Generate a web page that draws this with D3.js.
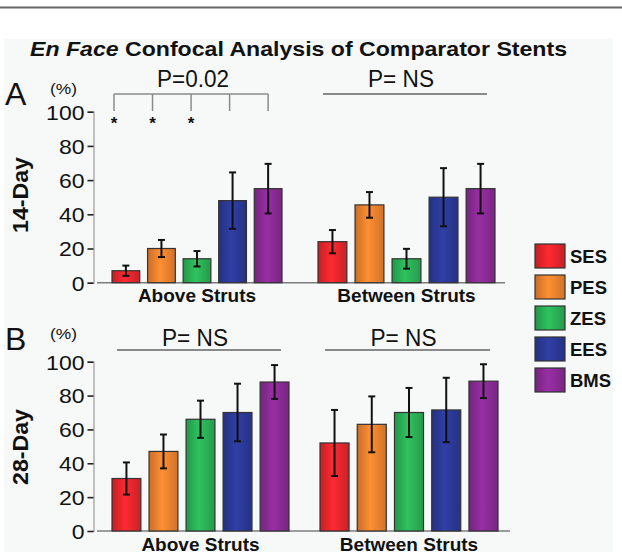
<!DOCTYPE html>
<html>
<head>
<meta charset="utf-8">
<script src="https://cdn.jsdelivr.net/npm/d3@7"></script>
<style>
  html, body { margin: 0; padding: 0; background: #ffffff; }
  svg { display: block; font-family: "Liberation Sans", Arial, Helvetica, sans-serif; }
</style>
</head>
<body>
<svg id="chart" width="622" height="552"></svg>
<script>
// ---------------- data ----------------
const series = ["SES", "PES", "ZES", "EES", "BMS"];
const groups = ["Above Struts", "Between Struts"];
const seriesColors = ["#e8262c", "#f0832f", "#2bb257", "#2b3a98", "#8b2b97"];

const day14Means  = [[7, 20, 14, 48, 55], [24, 45.5, 14, 50, 55]];
const day14Errors = [[3, 5, 4.5, 16.5, 14.5], [6.8, 7.5, 5.8, 17, 14.5]];
const day28Means  = [[31, 47, 66, 70, 88], [52, 63, 70, 71.5, 88.5]];
const day28Errors = [[9.5, 10, 11, 17, 10], [19.5, 16.5, 14.5, 19, 10]];

const yTicks = [0, 20, 40, 60, 80, 100];
const pLabels14 = ["P=0.02", "P= NS"];
const pLabels28 = ["P= NS", "P= NS"];
const stars14Above = [true, true, true, false, false];
const titleItalic = "En Face";
const titleRest = " Confocal Analysis of Comparator Stents";

// ---------------- layout ----------------
const svg = d3.select("#chart");
const panels = [
  { letter: "A", day: "14-Day", means: day14Means, errors: day14Errors, pLabels: pLabels14,
    y0: 282.7, y100: 111.7, letterY: 105, pctY: 94, pY: 87, lineY: 94,
    groupRanges: [[112, 282], [318, 495]], baseEnd: 505, labelY: 302, dayY: 195 },
  { letter: "B", day: "28-Day", means: day28Means, errors: day28Errors, pLabels: pLabels28,
    y0: 531, y100: 361.7, letterY: 350, pctY: 339, pY: 346, lineY: 350,
    groupRanges: [[112, 289], [320, 498]], baseEnd: 510, labelY: 551, dayY: 447 }
];

// gradients
const defs = svg.append("defs");
seriesColors.forEach((c, i) => {
  const g = defs.append("linearGradient").attr("id", "grad" + i)
    .attr("x1", 0).attr("x2", 1).attr("y1", 0).attr("y2", 0);
  const base = d3.color(c);
  g.append("stop").attr("offset", "0%").attr("stop-color", base.darker(0.5));
  g.append("stop").attr("offset", "45%").attr("stop-color", base.brighter(0.25));
  g.append("stop").attr("offset", "100%").attr("stop-color", base.darker(0.4));
});

// background
svg.append("line").attr("x1", 0).attr("x2", 622).attr("y1", 7.5).attr("y2", 7.5)
  .attr("stroke", "#666").attr("stroke-width", 2);
svg.append("rect").attr("x", 4).attr("y", 39).attr("width", 609).attr("height", 513)
  .attr("fill", "#f7f9f9");

// title
const title = svg.append("text").attr("x", 30).attr("y", 56)
  .attr("font-size", 20.5).attr("font-weight", "bold").attr("fill", "#111")
  .attr("textLength", 537).attr("lengthAdjust", "spacingAndGlyphs");
title.append("tspan").attr("font-style", "italic").text(titleItalic);
title.append("tspan").text(titleRest);

const axisX = 93.5;

panels.forEach(p => {
  const y = d3.scaleLinear().domain([0, 100]).range([p.y0, p.y100]);
  const g = svg.append("g");

  // letter, (%)
  g.append("text").attr("x", 5).attr("y", p.letterY).attr("font-size", 32)
    .attr("fill", "#111").text(p.letter);
  g.append("text").attr("x", 50).attr("y", p.pctY).attr("font-size", 15)
    .attr("fill", "#111").attr("textLength", 27).attr("lengthAdjust", "spacingAndGlyphs").text("(%)");

  // rotated day label
  g.append("text").attr("transform", `translate(28,${p.dayY}) rotate(-90)`)
    .attr("text-anchor", "middle").attr("font-size", 22).attr("font-weight", "bold")
    .attr("fill", "#111").attr("textLength", 76).attr("lengthAdjust", "spacingAndGlyphs")
    .text(p.day);

  // y axis
  const ax = g.append("g").attr("transform", `translate(${axisX},0)`)
    .call(d3.axisLeft(y).tickValues(yTicks).tickSize(6).tickSizeOuter(6).tickPadding(3));
  ax.select(".domain").attr("stroke", "#9a9a9a").attr("stroke-width", 1.2);
  ax.selectAll(".tick line").attr("stroke", "#222").attr("stroke-width", 1.6);
  ax.selectAll(".tick text").attr("font-size", 20.5).attr("fill", "#111")
    .attr("font-family", "Liberation Sans, Arial, sans-serif")
    .attr("dy", "0.36em")
    .attr("textLength", d => String(d).length * 12.8).attr("lengthAdjust", "spacingAndGlyphs");

  // baseline
  g.append("line").attr("x1", 97).attr("x2", p.baseEnd).attr("y1", y(0)).attr("y2", y(0))
    .attr("stroke", "#7d7d7d").attr("stroke-width", 1.5);

  groups.forEach((grp, gi) => {
    const [gx0, gx1] = p.groupRanges[gi];
    const x = d3.scaleBand().domain(series).range([gx0, gx1]).paddingInner(0.22).paddingOuter(0);
    const bw = x.bandwidth();
    const gg = g.append("g");

    // bars
    gg.selectAll("rect.bar").data(series).join("rect").attr("class", "bar")
      .attr("x", s => x(s)).attr("width", bw)
      .attr("y", (s, i) => y(p.means[gi][i]))
      .attr("height", (s, i) => y(0) - y(p.means[gi][i]))
      .attr("fill", (s, i) => `url(#grad${i})`)
      .attr("stroke", "#333").attr("stroke-width", 1.2);

    // error bars
    series.forEach((s, i) => {
      const cx = x(s) + bw / 2;
      const m = p.means[gi][i], e = p.errors[gi][i];
      gg.append("line").attr("x1", cx).attr("x2", cx).attr("y1", y(m + e)).attr("y2", y(m - e))
        .attr("stroke", "#111").attr("stroke-width", 2);
      [m + e, m - e].forEach(v => {
        gg.append("line").attr("x1", cx - 3.5).attr("x2", cx + 3.5).attr("y1", y(v)).attr("y2", y(v))
          .attr("stroke", "#111").attr("stroke-width", 2);
      });
    });

    // group label
    gg.append("text").attr("x", (gx0 + gx1) / 2).attr("y", p.labelY)
      .attr("text-anchor", "middle").attr("font-size", 19).attr("font-weight", "bold")
      .attr("fill", "#111").text(grp);

    // significance annotation
    const pl = p.pLabels[gi];
    if (pl === "P=0.02") {
      const bx0 = x(series[0]) + 2;
      const bx1 = x(series[series.length - 1]) + bw / 2;
      const step = (bx1 - bx0) / (series.length - 1);
      gg.append("line").attr("x1", bx0).attr("x2", bx1).attr("y1", p.lineY).attr("y2", p.lineY)
        .attr("stroke", "#8a8a8a").attr("stroke-width", 1.5);
      series.forEach((s, i) => {
        const tx = bx0 + i * step;
        gg.append("line").attr("x1", tx).attr("x2", tx).attr("y1", p.lineY).attr("y2", p.lineY + 17)
          .attr("stroke", "#8a8a8a").attr("stroke-width", 1.5);
        if (stars14Above[i]) {
          gg.append("text").attr("x", tx).attr("y", p.lineY + 35).attr("text-anchor", "middle")
            .attr("font-size", 17).attr("font-weight", "bold").attr("fill", "#111").text("*");
        }
      });
      gg.append("text").attr("x", (bx0 + bx1) / 2 + 2).attr("y", p.pY).attr("text-anchor", "middle")
        .attr("font-size", 23).attr("fill", "#111")
        .attr("textLength", 72).attr("lengthAdjust", "spacingAndGlyphs").text(pl);
    } else {
      const lx0 = x(series[0]) + 5;
      const lx1 = x(series[series.length - 1]) + bw - 8;
      gg.append("line").attr("x1", lx0).attr("x2", lx1).attr("y1", p.lineY).attr("y2", p.lineY)
        .attr("stroke", "#8a8a8a").attr("stroke-width", 1.8);
      gg.append("text").attr("x", (lx0 + lx1) / 2 - 4).attr("y", p.pY).attr("text-anchor", "middle")
        .attr("font-size", 23).attr("fill", "#111")
        .attr("textLength", 66).attr("lengthAdjust", "spacingAndGlyphs").text(pl);
    }
  });
});

// legend
const legend = svg.append("g");
series.forEach((s, i) => {
  const ly = 244 + i * 31;
  legend.append("rect").attr("x", 535).attr("y", ly).attr("width", 30).attr("height", 24)
    .attr("fill", `url(#grad${i})`).attr("stroke", "#333").attr("stroke-width", 1.2);
  legend.append("text").attr("x", 570).attr("y", ly + 18.5).attr("font-size", 18.5)
    .attr("font-weight", "bold").attr("fill", "#111").text(s);
});
</script>
</body>
</html>
